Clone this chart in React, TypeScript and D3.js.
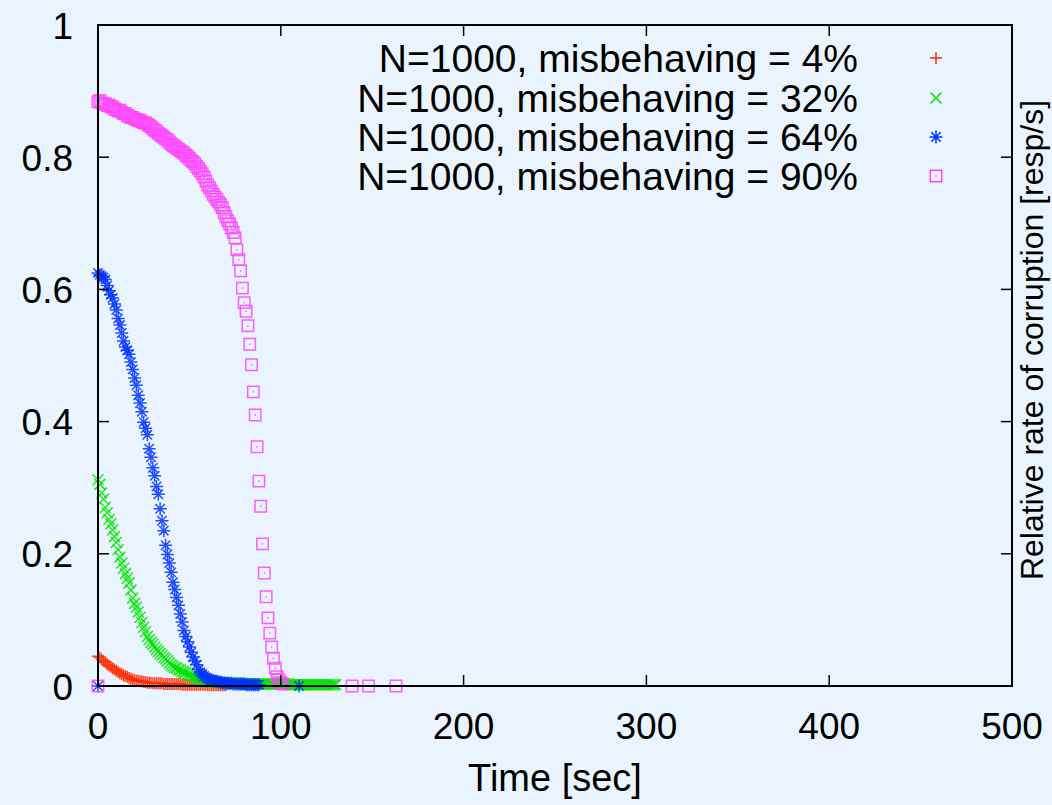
import React, { useRef, useEffect } from 'react';
import * as d3 from 'd3';

const W = 1052;
const H = 805;
const plot = { left: 98, right: 1012, top: 25, bottom: 686 };

const xTicks = [0, 100, 200, 300, 400, 500];
const yTicks = [0, 0.2, 0.4, 0.6, 0.8, 1];
const yTickLabels = ['0', '0.2', '0.4', '0.6', '0.8', '1'];

const legendLabels = [
  'N=1000, misbehaving = 4%',
  'N=1000, misbehaving = 32%',
  'N=1000, misbehaving = 64%',
  'N=1000, misbehaving = 90%',
];
const colors = ['#ff2a00', '#00e400', '#0033ff', '#ff44ff'];
const symbols = ['plus', 'cross', 'star', 'box'];

// one value per second, starting at t = 0
const misb4 = [
  0.045, 0.043, 0.040, 0.038, 0.036, 0.033, 0.031, 0.029, 0.027, 0.025,
  0.023, 0.021, 0.019, 0.018, 0.016, 0.015, 0.014, 0.012, 0.011, 0.010,
  0.009, 0.008, 0.008, 0.007, 0.007, 0.006, 0.006, 0.005, 0.005, 0.005,
  0.004, 0.004, 0.004, 0.004, 0.004, 0.004, 0.003, 0.003, 0.003, 0.003,
  0.003, 0.003, 0.003, 0.003, 0.003, 0.003, 0.002, 0.002, 0.002, 0.002,
  0.002, 0.002, 0.002, 0.002, 0.002, 0.002, 0.002, 0.002, 0.002, 0.002,
  0.001, 0.001, 0.001, 0.001, 0.001, 0.001, 0.001, 0.001, 0.001, 0.001, 0.001,
];
const misb32 = [
  0.312, 0.305, 0.292, 0.283, 0.270, 0.262, 0.252, 0.245, 0.236, 0.226,
  0.217, 0.206, 0.195, 0.186, 0.178, 0.170, 0.163, 0.156, 0.145, 0.133,
  0.125, 0.119, 0.112, 0.104, 0.096, 0.089, 0.082, 0.075, 0.070, 0.066,
  0.063, 0.059, 0.055, 0.052, 0.049, 0.046, 0.043, 0.041, 0.038, 0.035,
  0.032, 0.030, 0.028, 0.027, 0.025, 0.024, 0.022, 0.021, 0.020, 0.018,
  0.017, 0.016, 0.014, 0.013, 0.012, 0.011, 0.010, 0.009, 0.009, 0.008,
  0.007, 0.007, 0.006, 0.006, 0.006, 0.005, 0.005, 0.005, 0.005, 0.004,
  0.004, 0.004, 0.004, 0.004, 0.004, 0.004, 0.004, 0.004, 0.004, 0.004,
  0.003, 0.003, 0.003, 0.003, 0.003, 0.003, 0.003, 0.003, 0.003, 0.003,
  0.003, 0.003, 0.003, 0.003, 0.003, 0.003, 0.003, 0.003, 0.003, 0.003,
  0.003, 0.003, 0.003, 0.003, 0.003, 0.002, 0.002, 0.002, 0.002, 0.002,
  0.002, 0.002, 0.002, 0.002, 0.002, 0.002, 0.002, 0.002, 0.002, 0.002,
  0.002, 0.002, 0.002, 0.002, 0.002, 0.002, 0.002, 0.002, 0.002, 0.002,
  0.002,
];
const misb64 = [
  0.625, 0.622, 0.620, 0.618, 0.615, 0.606, 0.598, 0.592, 0.587, 0.578,
  0.569, 0.556, 0.546, 0.534, 0.522, 0.513, 0.508, 0.502, 0.490, 0.479,
  0.466, 0.455, 0.440, 0.428, 0.415, 0.399, 0.390, 0.380, 0.359, 0.346,
  0.330, 0.318, 0.302, 0.290, 0.268, 0.250, 0.235, 0.213, 0.199, 0.186,
  0.172, 0.157, 0.146, 0.134, 0.122, 0.109, 0.097, 0.084, 0.075, 0.067,
  0.059, 0.051, 0.044, 0.038, 0.032, 0.025, 0.021, 0.018, 0.015, 0.013,
  0.011, 0.010, 0.009, 0.008, 0.007, 0.007, 0.006, 0.006, 0.005, 0.005,
  0.004, 0.004, 0.004, 0.004, 0.003, 0.003, 0.003, 0.003, 0.003, 0.003,
  0.003, 0.002, 0.002, 0.002, 0.002, 0.002, 0.002, 0.002, 0.002,
];
const misb90 = [
  0.884, 0.886, 0.882, 0.880, 0.881, 0.878, 0.879, 0.876, 0.876, 0.873,
  0.872, 0.870, 0.871, 0.868, 0.866, 0.866, 0.863, 0.862, 0.860, 0.860,
  0.858, 0.857, 0.855, 0.856, 0.853, 0.852, 0.852, 0.850, 0.848, 0.846,
  0.843, 0.841, 0.839, 0.836, 0.834, 0.832, 0.830, 0.828, 0.826, 0.823,
  0.820, 0.818, 0.816, 0.814, 0.812, 0.810, 0.808, 0.806, 0.803, 0.801,
  0.798, 0.795, 0.793, 0.790, 0.786, 0.783, 0.779, 0.775, 0.770, 0.764,
  0.758, 0.754, 0.749, 0.744, 0.740, 0.736, 0.732, 0.728, 0.724, 0.716,
  0.710, 0.704, 0.699, 0.693, 0.686, 0.678, 0.660, 0.645, 0.628, 0.602,
  0.580, 0.567, 0.545, 0.517, 0.486, 0.445, 0.410, 0.362, 0.310, 0.272,
  0.215, 0.171, 0.135, 0.103, 0.080, 0.059, 0.042, 0.027, 0.014, 0.009,
  0.005, 0.003,
];
// isolated samples [time, value]
const misb4Extra: number[][] = [];
const misb32Extra: number[][] = [];
const misb64Extra = [[0, 0], [110, 0]];
const misb90Extra = [[0, 0], [139, 0], [148, 0], [163, 0]];

const seriesValues = [misb4, misb32, misb64, misb90];
const seriesExtras = [misb4Extra, misb32Extra, misb64Extra, misb90Extra];

const FONT = "'Liberation Sans', Arial, Helvetica, sans-serif";

const symbolPath = (s: string) => {
  if (s === 'plus') return 'M-6,0H6M0,-6V6';
  if (s === 'cross') return 'M-5.5,-5.5L5.5,5.5M-5.5,5.5L5.5,-5.5';
  if (s === 'star') return 'M-6.5,0H6.5M0,-6.5V6.5M-4.7,-4.7L4.7,4.7M-4.7,4.7L4.7,-4.7';
  return 'M-5.7,-5.7H5.7V5.7H-5.7Z';
};

const App = () => {
  const svgRef = useRef<SVGSVGElement>(null);

  useEffect(() => {
    const svg = d3.select(svgRef.current);
    svg.selectAll('*').remove();

    const x = d3.scaleLinear().domain([0, 500]).range([plot.left, plot.right]);
    const y = d3.scaleLinear().domain([0, 1]).range([plot.bottom, plot.top]);

    svg.append('rect').attr('width', W).attr('height', H).attr('fill', '#eaf4fe');

    // data points, drawn in legend order
    const drawMarks = (g: any, pts: number[][], i: number) => {
      const sel = g.selectAll(null)
        .data(pts)
        .enter().append('g')
        .attr('transform', (d: number[]) => `translate(${x(d[0])},${y(d[1])})`);
      sel.append('path')
        .attr('d', symbolPath(symbols[i]))
        .attr('fill', 'none')
        .attr('stroke', colors[i])
        .attr('stroke-width', 1.5)
        .attr('stroke-opacity', 0.85);
      if (symbols[i] === 'box') {
        sel.append('rect')
          .attr('x', -0.7).attr('y', -0.7).attr('width', 1.4).attr('height', 1.4)
          .attr('fill', colors[i]);
      }
    };

    seriesValues.forEach((vals, i) => {
      const pts = vals.map((v, t) => [t, v]).concat(seriesExtras[i]);
      const g = svg.append('g');
      drawMarks(g, pts, i);
    });

    // frame and ticks
    const axis = svg.append('g').attr('stroke', '#000');
    axis.append('rect')
      .attr('x', plot.left).attr('y', plot.top)
      .attr('width', plot.right - plot.left).attr('height', plot.bottom - plot.top)
      .attr('fill', 'none').attr('stroke-width', 2);
    const tl = 11;
    yTicks.forEach((v) => {
      axis.append('line').attr('x1', plot.left).attr('x2', plot.left + tl)
        .attr('y1', y(v)).attr('y2', y(v)).attr('stroke-width', 1.5);
      axis.append('line').attr('x1', plot.right).attr('x2', plot.right - tl)
        .attr('y1', y(v)).attr('y2', y(v)).attr('stroke-width', 1.5);
    });
    xTicks.forEach((v) => {
      axis.append('line').attr('y1', plot.bottom).attr('y2', plot.bottom - tl)
        .attr('x1', x(v)).attr('x2', x(v)).attr('stroke-width', 1.5);
      axis.append('line').attr('y1', plot.top).attr('y2', plot.top + tl)
        .attr('x1', x(v)).attr('x2', x(v)).attr('stroke-width', 1.5);
    });

    const txt = svg.append('g').attr('font-family', FONT).attr('fill', '#000');
    yTicks.forEach((v, i) => {
      txt.append('text').attr('x', 73).attr('y', y(v) + 13.5)
        .attr('text-anchor', 'end').attr('font-size', 37).text(yTickLabels[i]);
    });
    xTicks.forEach((v) => {
      txt.append('text').attr('x', x(v)).attr('y', 739)
        .attr('text-anchor', 'middle').attr('font-size', 37).text(String(v));
    });
    txt.append('text').attr('x', 555).attr('y', 791)
      .attr('text-anchor', 'middle').attr('font-size', 38).text('Time [sec]');
    txt.append('text')
      .attr('transform', 'translate(1043,340) rotate(-90)')
      .attr('text-anchor', 'middle').attr('font-size', 32)
      .text('Relative rate of corruption [resp/s]');

    // legend
    const legendY = [58, 98, 137, 176];
    legendLabels.forEach((label, i) => {
      txt.append('text').attr('x', 858).attr('y', legendY[i] + 14)
        .attr('text-anchor', 'end').attr('font-size', 39).text(label);
      const g = svg.append('g');
      g.append('path')
        .attr('transform', `translate(936,${legendY[i]})`)
        .attr('d', symbolPath(symbols[i]))
        .attr('fill', 'none').attr('stroke', colors[i]).attr('stroke-width', 1.5);
      if (symbols[i] === 'box') {
        g.append('rect').attr('x', 935.3).attr('y', legendY[i] - 0.7)
          .attr('width', 1.4).attr('height', 1.4).attr('fill', colors[i]);
      }
    });
  }, []);

  return (
    <svg
      ref={svgRef}
      width={W}
      height={H}
      style={{ position: 'absolute', left: 0, top: 0, display: 'block' }}
    />
  );
};

export default App;
